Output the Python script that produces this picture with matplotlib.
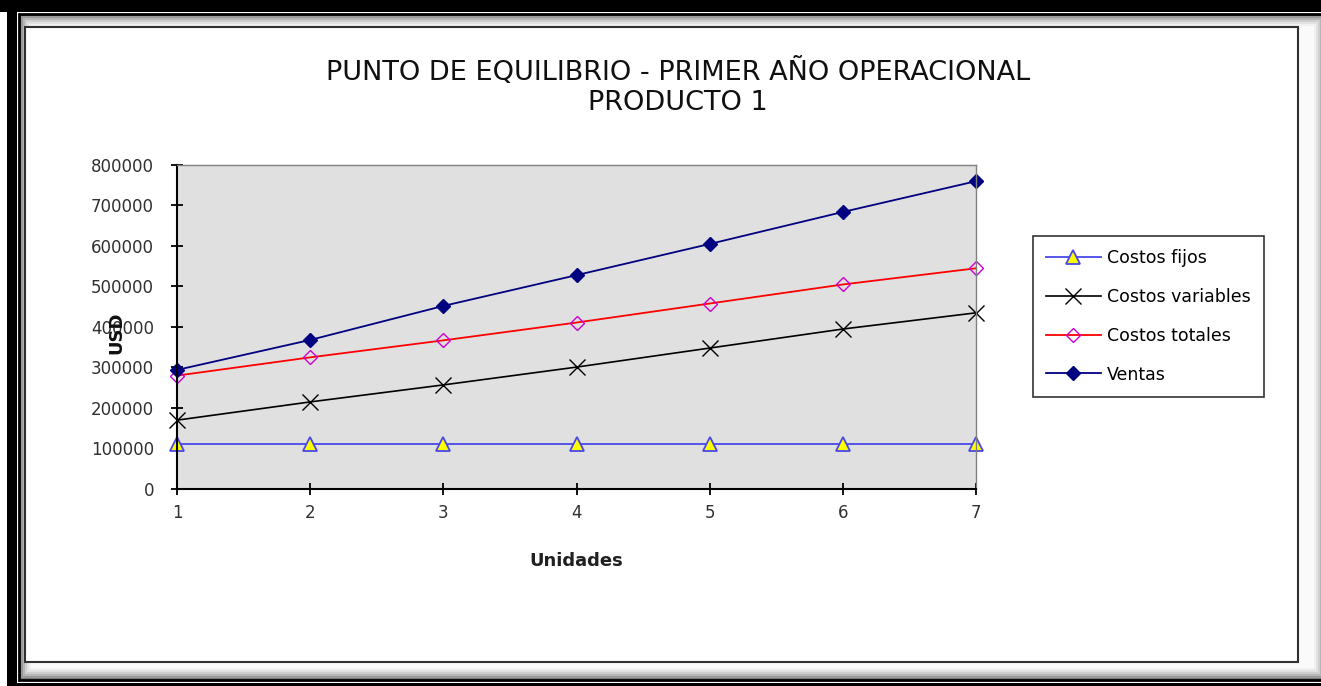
import matplotlib
matplotlib.use('Agg')
import matplotlib.pyplot as plt
from matplotlib.patches import Rectangle

plt.rcParams['font.family'] = ['DejaVu Sans']

W, H = 1321, 686

# data
unidades = [1, 2, 3, 4, 5, 6, 7]
costos_fijos = [110000, 110000, 110000, 110000, 110000, 110000, 110000]
costos_variables = [170000, 215000, 257000, 301000, 348000, 395000, 435000]
costos_totales = [280000, 325000, 367000, 411000, 458000, 505000, 545000]
ventas = [294000, 368000, 452000, 528000, 605000, 684000, 760000]
y_ticks = [0, 100000, 200000, 300000, 400000, 500000, 600000, 700000, 800000]

titulo = 'PUNTO DE EQUILIBRIO - PRIMER AÑO OPERACIONAL\nPRODUCTO 1'


def box(x0, y0, x1, y1):
    # pixel box (top-left origin) -> [left, bottom, width, height] in figure fractions
    return [x0 / W, 1 - y1 / H, (x1 - x0) / W, (y1 - y0) / H]


fig = plt.figure(figsize=(W / 100, H / 100), dpi=100)
fig.patch.set_facecolor('white')

def add_rect(x0, y0, x1, y1, **kw):
    l, b, w, h = box(x0, y0, x1, y1)
    fig.add_artist(Rectangle((l, b), w, h, transform=fig.transFigure,
                             zorder=-10, **kw))

# outer black frame pieces
add_rect(0, 0, W, 12, color='black', lw=0)
add_rect(7, 0, 17, H, color='black', lw=0)
add_rect(17, 683, W, H, color='black', lw=0)

# shaded sheet border (simple gradient by nested boxes)
add_rect(19, 14, W + 5, 680, facecolor='#7a7a7a', edgecolor='black', lw=2)
greys = ['#9a9a9a', '#b6b6b6', '#cfcfcf', '#e2e2e2', '#f0f0f0', '#fafafa']
for i, g in enumerate(greys):
    d = 2 + i * 2
    add_rect(19 + d, 14 + d, W + 5 - d, 680 - d, facecolor=g, lw=0)

# white chart area
add_rect(25, 27, 1298, 662, facecolor='white', edgecolor='#303030', lw=1.5)

ax = fig.add_axes(box(177, 165, 976, 489))
ax.set_facecolor('#e0e0e0')

ax.plot(unidades, costos_fijos, color='#4848e8', lw=1.3, marker='^',
        ms=10, mfc='#ffff00', mec='#4848e8', mew=1.3, label='Costos fijos')
ax.plot(unidades, costos_variables, color='black', lw=1.2, marker='x',
        ms=11, mew=1.0, label='Costos variables')
ax.plot(unidades, costos_totales, color='#ff0000', lw=1.3, marker='D',
        ms=7, mfc='none', mec='#cc00cc', mew=1.0, label='Costos totales')
ax.plot(unidades, ventas, color='#000080', lw=1.3, marker='D',
        ms=7.5, mfc='#000080', mec='#000080', label='Ventas')

ax.set_xlim(1, 7)
ax.set_ylim(0, 800000)
ax.set_xticks(unidades)
ax.set_yticks(y_ticks)
ax.set_yticklabels([str(v) for v in y_ticks])
for s in ['top', 'right']:
    ax.spines[s].set_color('#808080')
    ax.spines[s].set_linewidth(1.0)
for s in ['left', 'bottom']:
    ax.spines[s].set_color('black')
    ax.spines[s].set_linewidth(1.5)
ax.tick_params(direction='inout', length=9, width=1.3, labelsize=12,
               colors='black')
ax.tick_params(axis='y', pad=12)
ax.tick_params(axis='x', pad=6)
for lab in ax.get_yticklabels() + ax.get_xticklabels():
    lab.set_color('#303030')
for line in ax.lines:
    line.set_clip_on(False)

fig.text(678 / W, 1 - 87 / H, titulo, ha='center', va='center',
         fontsize=19.5, linespacing=1.17, color='#101010')
fig.text(576 / W, 1 - 561 / H, 'Unidades', ha='center', va='center',
         fontsize=13, fontweight='bold', color='#202020')
fig.text(116 / W, 1 - 333 / H, 'USD', ha='center', va='center',
         rotation=90, fontsize=13, fontweight='bold', color='#101010')

leg = fig.legend(loc='upper left', bbox_to_anchor=(1033 / W, 1 - 236 / H),
                 frameon=True, fancybox=False, fontsize=12.5,
                 handlelength=3.15, handletextpad=0.35, labelspacing=1.2,
                 borderpad=0.75, borderaxespad=0)
leg.get_frame().set_edgecolor('black')
leg.get_frame().set_linewidth(1.2)

fig.savefig('out.png', dpi=100)
